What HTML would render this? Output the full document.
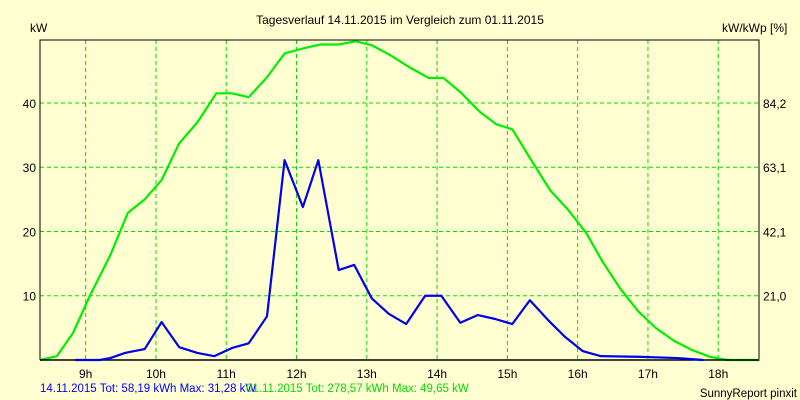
<!DOCTYPE html>
<html><head><meta charset="utf-8"><style>
body{margin:0;background:#ffffd2}
svg{display:block;font-family:"Liberation Sans",Arial,sans-serif;font-size:12px}
</style></head><body>
<svg id="c" width="800" height="400">
<rect width="800" height="400" fill="#ffffd2"/>
<text x="400" y="24" text-anchor="middle" fill="#000">Tagesverlauf 14.11.2015 im Vergleich zum 01.11.2015</text>
<text x="30" y="32" fill="#000">kW</text>
<text x="722" y="32" fill="#000">kW/kWp [%]</text>
<g id="grid"></g><g id="axes"></g><g id="series"></g>
<text x="40" y="392" fill="#0000ff" font-size="11.5">14.11.2015 Tot: 58,19 kWh Max: 31,28 kW</text>
<text x="246" y="392" fill="#00dd00" font-size="11.5">01.11.2015 Tot: 278,57 kWh Max: 49,65 kW</text>
<text x="797" y="397" text-anchor="end" fill="#000" font-size="11.5">SunnyReport pinxit</text>
</svg>
<script>
const xTicks=[9,10,11,12,13,14,15,16,17,18];
const yTicks=[10,20,30,40];
const y2Labels=["21,0","42,1","63,1","84,2"];
const greenHours=[8.35,8.59,8.82,9.06,9.35,9.6,9.84,10.08,10.33,10.59,10.86,11.08,11.32,11.58,11.83,12.1,12.34,12.6,12.84,13.07,13.34,13.6,13.88,14.09,14.35,14.6,14.84,15.07,15.34,15.61,15.87,16.12,16.36,16.6,16.86,17.11,17.37,17.62,17.88,18.13,18.59];
const greenValues=[0,0.6,4.2,10,16.3,22.9,25,28,33.7,37,41.5,41.5,40.9,44,47.7,48.5,49.1,49.1,49.6,49,47.4,45.6,43.9,43.9,41.5,38.7,36.7,35.9,31.1,26.4,23.3,19.8,15.2,11.2,7.6,5,3,1.6,0.5,0,0];
const blueHours=[8.85,9.2,9.35,9.56,9.84,10.08,10.33,10.59,10.83,11.09,11.32,11.58,11.83,12.09,12.31,12.6,12.82,13.07,13.31,13.56,13.83,14.06,14.33,14.58,14.82,15.07,15.32,15.58,15.82,16.07,16.33,16.86,17.42,17.79];
const blueValues=[0,0,0.3,1.1,1.7,5.9,2,1.1,0.6,1.9,2.6,6.8,31.1,23.8,31.1,14,14.8,9.6,7.2,5.6,10,10,5.8,7,6.4,5.6,9.3,6.2,3.6,1.4,0.6,0.5,0.3,0];
const L=40,R=759,T=40,B=360,xMin=8.35,xMax=18.58,yMax=49.8;
const sx=h=>L+(h-xMin)/(xMax-xMin)*(R-L);
const sy=v=>B-v/yMax*(B-T);
const NS="http://www.w3.org/2000/svg";
function mk(tag,parent,attrs){const e=document.createElementNS(NS,tag);for(const k in attrs)e.setAttribute(k,attrs[k]);document.getElementById(parent).appendChild(e);return e;}
xTicks.forEach(h=>{
  const g=mk('line','grid',{x1:sx(h),x2:sx(h),y1:T,y2:B,stroke:'#00dd00','stroke-dasharray':'4,3'});
  
  
  const t=mk('text','axes',{x:sx(h),y:B+18,'text-anchor':'middle',fill:'#000'});
  t.textContent=h+'h';
  
  
});
yTicks.forEach((v,i)=>{
  const g=mk('line','grid',{x1:L,x2:R,y1:sy(v),y2:sy(v),stroke:'#00dd00','stroke-dasharray':'4,3'});
  
  
  const t=mk('text','axes',{x:L-4,y:sy(v)+5,'text-anchor':'end',fill:'#000'});
  t.textContent=v;
  
  
  const t2=mk('text','axes',{x:R+4,y:sy(v)+5,fill:'#000'});
  t2.textContent=y2Labels[i];
  
  
});
const box=mk('path','axes',{d:`M${L},${B}V${T}H${R}V${B}`,fill:'none',stroke:'#000','stroke-width':1});


function line(hs,vs,col,name){
  const p=mk('polyline','series',{points:hs.map((h,i)=>sx(h)+','+sy(vs[i])).join(' '),fill:'none',stroke:col,'stroke-width':2.2,'stroke-linejoin':'round'});
  
  
}
line(greenHours,greenValues,'#00ee00','series-01-11-2015');
const base=mk('line','series',{x1:L,x2:R,y1:B,y2:B,stroke:'#000','stroke-width':1.5});


line(blueHours,blueValues,'#0000ee','series-14-11-2015');
</script>
</body></html>
